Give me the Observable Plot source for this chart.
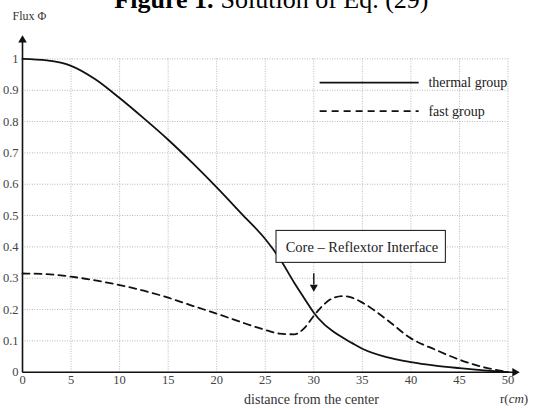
<!DOCTYPE html>
<html>
<head>
<meta charset="utf-8">
<script src="https://cdn.jsdelivr.net/npm/d3@7"></script>
<script src="https://cdn.jsdelivr.net/npm/@observablehq/plot@0.6"></script>
<style>
  body { margin: 0; background: #fff; }
  #chart svg { display: block; }
</style>
</head>
<body>
<div id="chart"></div>
<script>
// ---- data ----
const radius  = [0, 2.5, 5, 7.5, 10, 12.5, 15, 17.5, 20, 22.5, 25, 26.5, 28, 29, 30, 31, 32, 33, 34, 35, 37.5, 40, 42.5, 45, 47.5, 50];
const thermal = [1.0, 0.995, 0.978, 0.935, 0.875, 0.81, 0.742, 0.668, 0.59, 0.508, 0.425, 0.362, 0.285, 0.237, 0.19, 0.155, 0.13, 0.11, 0.092, 0.075, 0.048, 0.032, 0.021, 0.013, 0.006, 0.0];
const fast    = [0.315, 0.313, 0.305, 0.293, 0.278, 0.26, 0.238, 0.212, 0.187, 0.16, 0.135, 0.123, 0.121, 0.14, 0.18, 0.215, 0.237, 0.243, 0.237, 0.222, 0.168, 0.108, 0.072, 0.04, 0.016, 0.0];
const xTicks = [0, 5, 10, 15, 20, 25, 30, 35, 40, 45, 50];
const yTicks = [0, 0.1, 0.2, 0.3, 0.4, 0.5, 0.6, 0.7, 0.8, 0.9, 1];
const seriesNames = ["thermal group", "fast group"];
const titleBold = "Figure 1.";
const titleRest = "Solution of Eq. (29)";
const yTitle = "Flux Φ";
const xTitle = "distance from the center";
const annotation = "Core – Reflextor Interface";

const rows = radius.map((r, i) => ({r, thermal: thermal[i], fast: fast[i]}));

const serif = "'Liberation Serif', 'Times New Roman', serif";
const ink = "#111";
const fmt = d3.format("~g");

const chart = Plot.plot({
  width: 534,
  height: 408,
  marginLeft: 22,
  marginRight: 26.5,
  marginTop: 58.4,
  marginBottom: 36.3,
  x: {domain: [0, 50]},
  y: {domain: [0, 1]},
  style: {fontFamily: serif, fontSize: "12px", background: "#fff", color: "#333", overflow: "visible"},
  marks: [
    Plot.gridX(xTicks, {stroke: "#b8b8b8", strokeOpacity: 1, strokeDasharray: "1,1.5"}),
    Plot.gridY(yTicks, {stroke: "#b8b8b8", strokeOpacity: 1, strokeDasharray: "1,1.5"}),
    Plot.axisX(xTicks, {tickSize: 0, tickPadding: 3, fontSize: 12.5, fill: "#444", label: null, tickFormat: fmt}),
    Plot.axisY(yTicks, {tickSize: 0, tickPadding: 4, fontSize: 12.5, fill: "#444", label: null, tickFormat: fmt}),
    // axes with arrow heads
    Plot.link([0], {x1: 0, x2: 50.7, y1: 0, y2: 0, stroke: ink, strokeWidth: 1.6}),
    Plot.link([0], {x1: 0, x2: 0, y1: 0, y2: 1.06, stroke: ink, strokeWidth: 1.6}),
    Plot.dot([0], {x: 50.7, y: 0, symbol: "triangle", r: 3.2, fill: ink, stroke: "none", rotate: 90}),
    Plot.dot([0], {x: 0, y: 1.06, symbol: "triangle", r: 3.2, fill: ink, stroke: "none"}),
    // curves
    Plot.line(rows, {x: "r", y: "fast", stroke: ink, strokeWidth: 1.8, strokeDasharray: "7,5", curve: "monotone-x"}),
    Plot.line(rows, {x: "r", y: "thermal", stroke: ink, strokeWidth: 1.8, curve: "monotone-x"}),
    // legend
    Plot.link([seriesNames[0]], {x1: 30.6, x2: 40.8, y1: 0.924, y2: 0.924, stroke: ink, strokeWidth: 1.8}),
    Plot.link([seriesNames[1]], {x1: 30.6, x2: 40.8, y1: 0.833, y2: 0.833, stroke: ink, strokeWidth: 1.8, strokeDasharray: "7,5"}),
    Plot.text(seriesNames, {x: 41.8, y: (d, i) => [0.924, 0.833][i], text: d => d, textAnchor: "start", fontSize: 14, fill: "#222"}),
    // annotation
    Plot.rect([annotation], {x1: 26.16, x2: 43.6, y1: 0.349, y2: 0.451, fill: "#fff", stroke: ink, strokeWidth: 1}),
    Plot.text([annotation], {x: 27.1, y: 0.4, text: d => d, textAnchor: "start", fontSize: 14.5, fill: "#222"}),
    Plot.link([0], {x1: 30, x2: 30, y1: 0.316, y2: 0.28, stroke: ink, strokeWidth: 1.4}),
    Plot.dot([0], {x: 30, y: 0.272, symbol: "triangle", r: 3, fill: ink, stroke: "none", rotate: 180}),
    // titles
    Plot.text([titleBold], {frameAnchor: "top-left", dx: 191, dy: -58.4 + 7, text: d => d, textAnchor: "end", lineAnchor: "bottom", fontSize: 26, fontWeight: "bold", fill: "#000"}),
    Plot.text([titleRest], {frameAnchor: "top-left", dx: 198, dy: -58.4 + 7, text: d => d, textAnchor: "start", lineAnchor: "bottom", fontSize: 26, fill: "#000"}),
    Plot.text([yTitle], {frameAnchor: "top-left", dx: -10, dy: -58.4 + 16, text: d => d, textAnchor: "start", lineAnchor: "middle", fontSize: 12, fill: "#333"}),
    Plot.text([xTitle], {frameAnchor: "bottom-left", dx: 311 - 22, dy: 27.5, text: d => d, textAnchor: "middle", lineAnchor: "middle", fontSize: 14, fill: "#333"})
  ]
});

// "r(cm)" with italic unit
d3.select(chart).append("text")
  .attr("x", 500).attr("y", 403)
  .attr("text-anchor", "start")
  .attr("font-family", serif).attr("font-size", 13).attr("fill", "#333")
  .call(t => {
    t.append("tspan").text("r(");
    t.append("tspan").attr("font-style", "italic").text("cm");
    t.append("tspan").text(")");
  });

document.getElementById("chart").appendChild(chart);
</script>
</body>
</html>
